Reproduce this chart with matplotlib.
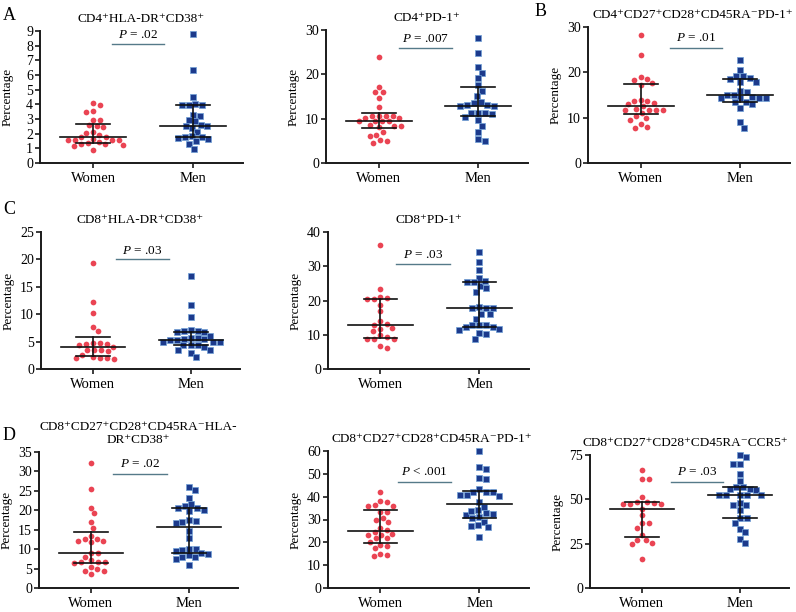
import numpy as np
import matplotlib
matplotlib.use("Agg")
import matplotlib.pyplot as plt

plt.rcParams['font.family'] = 'serif'
plt.rcParams['font.serif'] = ['Liberation Serif', 'DejaVu Serif']
plt.rcParams['mathtext.fontset'] = 'custom'
plt.rcParams['mathtext.rm'] = 'Liberation Serif'
plt.rcParams['mathtext.it'] = 'Liberation Serif:italic'
TITLE_FONTS = ['Liberation Serif', 'DejaVu Serif']

groups = ["Women", "Men"]

# values (percentage)
a1_women = [4.07, 3.94, 3.5, 3.55, 2.95, 2.95, 2.6, 2.45, 2.55, 2.05, 2.1, 1.9, 1.75, 1.75,
            1.65, 1.55, 1.55, 1.6, 1.55, 1.4, 1.3, 1.2, 1.15, 1.3, 1.35, 0.9]
a1_men = [8.82, 6.33, 4.48, 3.94, 3.94, 3.94, 4.05, 3.28, 3.19, 2.83, 2.94, 2.53, 2.42, 2.49,
          2.58, 2.1, 1.76, 1.76, 1.72, 1.85, 1.49, 1.63, 1.31, 0.97]

a2_women = [23.8, 17.2, 16.0, 16.0, 14.6, 12.6, 10.7, 10.7, 10.7, 10.7, 10.1, 10.1, 9.4, 9.4,
            9.4, 9.4, 8.3, 8.1, 8.3, 8.5, 6.9, 6.4, 6.1, 5.1, 5.0, 4.6]
a2_men = [28.3, 24.8, 21.6, 20.4, 19.2, 17.5, 16.2, 15.1, 13.8, 13.6, 13.0, 12.8, 12.8, 13.0,
          11.2, 11.0, 11.2, 11.3, 9.7, 10.4, 8.4, 7.0, 5.0, 5.4]

b_women = [28.3, 23.8, 19.0, 18.4, 17.6, 17.3, 18.6, 14.0, 13.7, 13.1, 12.6, 13.2, 13.7, 11.8,
           11.8, 12.0, 11.8, 11.6, 11.1, 10.3, 10.0, 9.4, 8.5, 7.8, 8.0]
b_men = [22.8, 20.6, 19.1, 19.3, 18.5, 17.9, 17.9, 18.7, 15.9, 15.1, 15.7, 15.1, 14.4, 14.4,
         14.4, 14.6, 14.4, 13.5, 13.1, 13.5, 12.2, 9.0, 7.8]

c1_women = [19.3, 12.2, 10.2, 7.0, 7.7, 4.7, 4.6, 4.1, 4.6, 4.7, 4.3, 3.2, 3.4, 3.4, 3.5,
            2.1, 2.0, 1.8, 2.0, 2.0, 2.5]
c1_men = [16.9, 11.7, 9.4, 6.7, 6.1, 7.1, 7.0, 6.7, 6.9, 5.7, 5.7, 5.3, 5.0, 5.0, 5.4, 5.5,
          5.0, 5.3, 4.4, 4.1, 4.4, 4.3, 3.4, 3.4, 3.0, 2.2]

c2_women = [36.1, 23.4, 20.7, 20.5, 20.5, 21.0, 18.8, 16.8, 13.9, 12.9, 13.1, 11.0, 11.8,
            12.0, 9.2, 8.9, 8.9, 8.9, 9.8, 6.1, 6.6]
c2_men = [34.1, 31.1, 29.0, 26.6, 24.1, 23.6, 22.5, 25.3, 25.3, 25.6, 18.0, 17.8, 17.8, 17.8,
          16.1, 16.1, 14.7, 12.9, 12.9, 12.9, 11.5, 12.2, 11.8, 12.3, 10.3, 10.5, 8.9]

d1_women = [32.1, 25.6, 20.7, 19.2, 17.1, 15.5, 13.5, 12.6, 12.0, 11.8, 12.2, 12.6, 9.1, 9.0,
            8.1, 6.8, 6.4, 6.7, 6.8, 7.3, 5.4, 4.5, 4.5, 5.0, 3.6]
d1_men = [25.9, 25.3, 23.1, 21.2, 20.7, 21.5, 19.8, 20.0, 20.7, 17.5, 17.1, 16.7, 17.3, 14.7,
          12.8, 10.0, 9.4, 10.1, 9.7, 8.4, 7.9, 7.5, 8.1, 8.7, 9.0, 6.0]

d2_women = [42.2, 36.3, 36.0, 38.1, 37.5, 36.0, 33.1, 33.4, 29.6, 29.0, 30.7, 26.4, 25.3,
            23.6, 23.4, 23.4, 24.6, 21.7, 20.2, 21.7, 19.0, 18.4, 17.3, 15.1, 13.9, 14.3]
d2_men = [60.0, 52.1, 53.1, 48.0, 47.7, 43.2, 42.2, 40.7, 40.4, 40.7, 41.9, 42.2, 37.8, 35.6,
          34.1, 32.9, 31.9, 30.7, 30.9, 32.6, 33.8, 29.0, 27.8, 27.1, 26.5, 22.4]

d3_women = [16.6, 25.4, 24.7, 27.3, 27.3, 30.1, 36.7, 36.7, 34.1, 41.0, 44.8, 48.6, 48.2,
            47.6, 47.6, 47.6, 48.6, 51.2, 61.4, 61.4, 66.3]
d3_men = [75.0, 73.8, 70.2, 70.2, 64.4, 60.3, 56.7, 55.6, 55.2, 56.1, 57.1, 52.4, 52.4, 52.7,
          52.4, 52.7, 48.2, 46.7, 46.7, 43.9, 39.5, 39.5, 36.9, 33.5, 31.3, 27.5, 25.4]

titles = ["CD4⁺HLA-DR⁺CD38⁺",
          "CD4⁺PD-1⁺",
          "CD4⁺CD27⁺CD28⁺CD45RA⁻PD-1⁺",
          "CD8⁺HLA-DR⁺CD38⁺",
          "CD8⁺PD-1⁺",
          "CD8⁺CD27⁺CD28⁺CD45RA⁻HLA-\nDR⁺CD38⁺",
          "CD8⁺CD27⁺CD28⁺CD45RA⁻PD-1⁺",
          "CD8⁺CD27⁺CD28⁺CD45RA⁻CCR5⁺"]
p_labels = [r"$\it{P}$ = .02", r"$\it{P}$ = .007", r"$\it{P}$ = .01", r"$\it{P}$ = .03",
            r"$\it{P}$ = .03", r"$\it{P}$ = .02", r"$\it{P}$ < .001", r"$\it{P}$ = .03"]
y_max = [9, 30, 30, 25, 40, 35, 60, 75]
y_step = [1, 10, 10, 5, 10, 5, 10, 25]
women_data = [a1_women, a2_women, b_women, c1_women, c2_women, d1_women, d2_women, d3_women]
men_data = [a1_men, a2_men, b_men, c1_men, c2_men, d1_men, d2_men, d3_men]

# layout: axes box in pixels (left, right, top, bottom), p-line (x0, x1, y), p-text y
boxes = [(40, 243, 31, 163), (326, 528, 30, 163), (588, 790, 27, 163),
         (41, 240, 232, 369), (328, 529, 232, 369),
         (39, 238, 452, 588), (328, 529, 451, 588), (590, 789, 455, 588)]
p_lines = [(0.19, 0.71, 8.1, 8.75), (0.2, 0.74, 25.9, 28.0), (0.29, 0.82, 25.4, 27.5),
           (0.23, 0.78, 20.1, 21.6), (0.16, 0.7, 30.7, 33.4), (0.22, 0.78, 29.3, 31.8),
           (0.18, 0.71, 46.4, 50.6), (0.3, 0.83, 59.8, 65.2)]
title_shift = [0, 0, 4, 0, 0, 0, 3, -4]

W, H = 796, 612
RED = '#ea4453'
NAVY = '#1c3a8c'
NAVY_EDGE = '#6f9fd6'
PLINE = '#557a89'

fig = plt.figure(figsize=(W / 100, H / 100), dpi=100)


def swarm(ax, x0, vals, dmin):
    # simple beeswarm in pixel space
    vals = np.asarray(vals, dtype=float)
    pts = ax.transData.transform(np.column_stack([np.full(len(vals), x0), vals]))
    order = np.argsort(-vals)
    placed = []
    xs = np.zeros(len(vals))
    cands = np.concatenate([[0.0], np.ravel(np.column_stack([np.arange(0.5, 80, 0.5),
                                                             -np.arange(0.5, 80, 0.5)]))])
    for i in order:
        px, py = pts[i]
        for c in cands:
            ok = True
            for qx, qy in placed:
                if (px + c - qx) ** 2 + (py - qy) ** 2 < dmin ** 2:
                    ok = False
                    break
            if ok:
                break
        placed.append((px + c, py))
        xs[i] = px + c
    back = ax.transData.inverted().transform(np.column_stack([xs, pts[:, 1]]))
    return back[:, 0]


def draw_summary(ax, x0, vals):
    q1, med, q3 = np.percentile(vals, [25, 50, 75], method='weibull')
    ax.plot([x0 - 0.33, x0 + 0.33], [med, med], color='#111111', lw=1.2, zorder=4,
            clip_on=False)
    ax.plot([x0 - 0.17, x0 + 0.17], [q1, q1], color='#111111', lw=1.2, zorder=4)
    ax.plot([x0 - 0.17, x0 + 0.17], [q3, q3], color='#111111', lw=1.2, zorder=4)
    ax.plot([x0, x0], [q1, q3], color='#111111', lw=1.2, zorder=4)


for k in range(8):
    l, r, t, b = boxes[k]
    ax = fig.add_axes([l / W, 1 - b / H, (r - l) / W, (b - t) / H])
    ax.set_xlim(-0.53, 1.5)
    ax.set_ylim(0, y_max[k])
    for s in ['top', 'right']:
        ax.spines[s].set_visible(False)
    for s in ['left', 'bottom']:
        ax.spines[s].set_linewidth(1.4)
        ax.spines[s].set_color('#1a1a1a')
    ax.set_yticks(np.arange(0, y_max[k] + 0.01, y_step[k]))
    ax.set_xticks([0, 1])
    ax.set_xticklabels(groups, fontsize=10.5)
    ax.tick_params(axis='both', length=3.5, width=1.2, color='#1a1a1a')
    ax.tick_params(axis='y', labelsize=10, pad=1.5)
    ax.tick_params(axis='x', pad=3)
    ax.set_ylabel("Percentage", fontsize=9.5)
    ax.yaxis.set_label_coords(-26 / (r - l), 0.5)
    ax.text(0.5 + title_shift[k] / (r - l), 1.0 + 6 / (b - t), titles[k],
            transform=ax.transAxes, ha='center', va='bottom', fontsize=9.5,
            family=TITLE_FONTS, linespacing=1.15)

    xw = swarm(ax, 0, women_data[k], 6.6)
    xm = swarm(ax, 1, men_data[k], 6.6)
    ax.scatter(xw, women_data[k], s=17, marker='o', color=RED, linewidths=0,
               zorder=3, clip_on=False)
    ax.scatter(xm, men_data[k], s=15, marker='s', color=NAVY, edgecolors=NAVY_EDGE,
               linewidths=0.5, zorder=3, clip_on=False)
    draw_summary(ax, 0, women_data[k])
    draw_summary(ax, 1, men_data[k])

    x0, x1, yl, yt = p_lines[k]
    ax.plot([x0, x1], [yl, yl], color=PLINE, lw=1.0, clip_on=False)
    ax.text((x0 + x1) / 2, yt, p_labels[k], ha='center', va='center', fontsize=9.5)

# panel letters
for letter, x, y in [("A", 3, 16), ("B", 535, 11), ("C", 3, 210), ("D", 3, 435)]:
    fig.text(x / W, 1 - y / H, letter, fontsize=13, ha='left', va='center')

plt.savefig("out.png", dpi=100)
